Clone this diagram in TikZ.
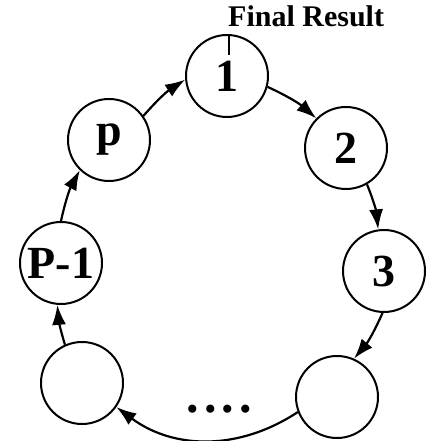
\documentclass[tikz,border=0pt]{standalone}
\usepackage{fontspec}
\setmainfont{Liberation Serif}
\usetikzlibrary{arrows.meta}
\begin{document}
\begin{tikzpicture}[x=1pt,y=1pt,
  ring/.style={circle,draw,line width=2pt,minimum size=82pt,inner sep=0pt,font=\fontsize{46}{46}\selectfont\bfseries},
  link/.style={line width=2.2pt,-{Latex[length=20pt,width=14pt]}},
  lbl/.style={font=\fontsize{30}{30}\selectfont\bfseries,inner sep=0pt}]
\useasboundingbox (0,0) rectangle (429,441);
\node[ring] (n1) at (227,365) {1};
\node[ring] (n2) at (346,293) {2};
\node[ring] (n3) at (384,170) {3};
\node[ring] (nbr) at (337,44) {};
\node[ring] (nbl) at (82,58) {};
\node[ring] (nP1) at (61,178) {P-1};
\node[ring] (np) at (109,301) {p};
\node[lbl,anchor=base west] (fr) at (228,414) {Final Result};
\node[inner sep=0pt,font=\fontsize{50}{50}\selectfont\bfseries] (dots) at (219,32) {.\kern5pt.\kern5pt.\kern5pt.};
\coordinate (t1) at (229,406);
\coordinate (t2) at (229,386);
\draw[line width=2pt] (t1) -- (t2);
\draw[link] (np.35) to[bend left=8] (n1.185);
\draw[link] (n1.-15) to[bend left=8] (n2.135);
\draw[link] (n2.-60) to[bend left=8] (n3.98);
\draw[link] (n3.-92) to[bend left=8] (nbr.66);
\draw[link] (nbr.201) to[bend left=35] (nbl.-35);
\draw[link] (nbl.114) to[bend left=6] (nP1.265);
\draw[link] (nP1.90) to[bend left=8] (np.226);
\end{tikzpicture}
\end{document}
